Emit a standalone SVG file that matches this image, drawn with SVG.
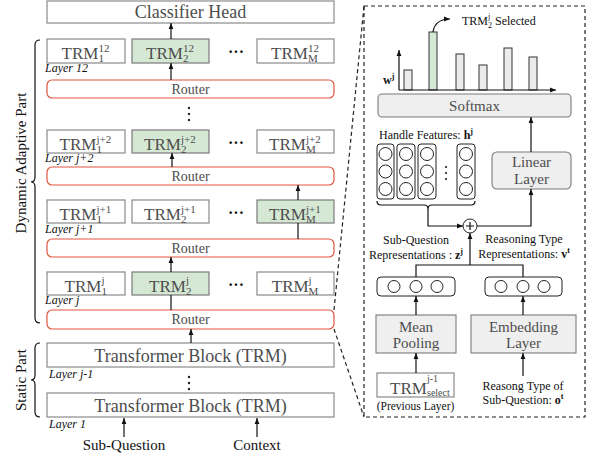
<svg xmlns="http://www.w3.org/2000/svg" width="589" height="459" viewBox="0 0 589 459">
<style>
.box{fill:#fff;stroke:#8a8a8a;stroke-width:1.2}
.grn{fill:#d5e8d4;stroke:#7a7a7a;stroke-width:1.2}
.rt{fill:#fff;stroke:#e0553f;stroke-width:1.2}
.gbox{fill:#efefef;stroke:#7a7a7a;stroke-width:1.1}
.ob{fill:#fff;stroke:#222;stroke-width:1}
.bar{fill:#ececec;stroke:#333;stroke-width:1}
.t{font-family:"Liberation Serif",serif;fill:#4d4d4d}
.k{font-family:"Liberation Serif",serif;fill:#111}
.lay{font-family:"Liberation Serif",serif;font-style:italic;font-size:12px;fill:#111}
.ln{fill:none;stroke:#111;stroke-width:1.2}
.dash{fill:none;stroke:#222;stroke-width:1.2;stroke-dasharray:4 3}
.dot{fill:#222}
.sc{font-size:11px}
</style>
<defs>
<marker id="ah" viewBox="0 0 10 10" refX="10" refY="5" markerWidth="6" markerHeight="6" orient="auto" markerUnits="userSpaceOnUse"><path d="M0,1 L10,5 L0,9 z" fill="#111"/></marker>
</defs>

<g id="classifier">
<rect class="box" x="47" y="1" width="287" height="22"/>
<text class="t" x="190.5" y="18" font-size="18" text-anchor="middle">Classifier Head</text>
</g>

<g id="layer12">
<rect class="box" x="47" y="39" width="78" height="24"/>
<text class="t" font-size="17"><tspan x="61.6" y="59">TRM</tspan><tspan class="sc" x="98.4" y="52">12</tspan><tspan class="sc" x="98.4" y="62">1</tspan></text>
<rect class="grn" x="132" y="39" width="77" height="24"/>
<text class="t" font-size="17"><tspan x="146.1" y="59">TRM</tspan><tspan class="sc" x="182.9" y="52">12</tspan><tspan class="sc" x="182.9" y="62">2</tspan></text>
<text class="k" x="236" y="57" font-size="16" font-weight="bold" text-anchor="middle">···</text>
<rect class="box" x="257" y="39" width="77" height="24"/>
<text class="t" font-size="17"><tspan x="271.1" y="59">TRM</tspan><tspan class="sc" x="307.9" y="52">12</tspan><tspan class="sc" x="307.9" y="62">M</tspan></text>
<text class="lay" x="45" y="72">Layer 12</text>
</g>
<g id="router12">
<rect class="rt" x="47" y="80" width="287" height="18" rx="5"/>
<text class="t" x="190.5" y="94" font-size="14" text-anchor="middle">Router</text>
</g>

<g id="layerj2">
<rect class="box" x="47" y="130" width="78" height="23"/>
<text class="t" font-size="17"><tspan x="59.6" y="150">TRM</tspan><tspan class="sc" x="96.4" y="143">j+2</tspan><tspan class="sc" x="96.4" y="153">1</tspan></text>
<rect class="grn" x="132" y="130" width="77" height="23"/>
<text class="t" font-size="17"><tspan x="144.1" y="150">TRM</tspan><tspan class="sc" x="180.9" y="143">j+2</tspan><tspan class="sc" x="180.9" y="153">2</tspan></text>
<text class="k" x="236" y="148" font-size="16" font-weight="bold" text-anchor="middle">···</text>
<rect class="box" x="257" y="130" width="77" height="23"/>
<text class="t" font-size="17"><tspan x="269.1" y="150">TRM</tspan><tspan class="sc" x="305.9" y="143">j+2</tspan><tspan class="sc" x="305.9" y="153">M</tspan></text>
<text class="lay" x="45" y="162">Layer j+2</text>
</g>
<g id="routerj2">
<rect class="rt" x="47" y="167" width="287" height="18" rx="5"/>
<text class="t" x="190.5" y="181" font-size="14" text-anchor="middle">Router</text>
</g>

<g id="layerj1">
<rect class="box" x="47" y="200" width="78" height="23"/>
<text class="t" font-size="17"><tspan x="59.6" y="220">TRM</tspan><tspan class="sc" x="96.4" y="213">j+1</tspan><tspan class="sc" x="96.4" y="223">1</tspan></text>
<rect class="box" x="132" y="200" width="77" height="23"/>
<text class="t" font-size="17"><tspan x="144.1" y="220">TRM</tspan><tspan class="sc" x="180.9" y="213">j+1</tspan><tspan class="sc" x="180.9" y="223">2</tspan></text>
<text class="k" x="236" y="218" font-size="16" font-weight="bold" text-anchor="middle">···</text>
<rect class="grn" x="257" y="200" width="77" height="23"/>
<text class="t" font-size="17"><tspan x="269.1" y="220">TRM</tspan><tspan class="sc" x="305.9" y="213">j+1</tspan><tspan class="sc" x="305.9" y="223">M</tspan></text>
<text class="lay" x="45" y="233">Layer j+1</text>
</g>
<g id="routerj1">
<rect class="rt" x="47" y="239" width="287" height="18" rx="5"/>
<text class="t" x="190.5" y="253" font-size="14" text-anchor="middle">Router</text>
</g>

<g id="layerj">
<rect class="box" x="47" y="272" width="78" height="23"/>
<text class="t" font-size="17"><tspan x="64.6" y="292">TRM</tspan><tspan class="sc" x="101.4" y="284">j</tspan><tspan class="sc" x="101.4" y="295">1</tspan></text>
<rect class="grn" x="132" y="272" width="77" height="23"/>
<text class="t" font-size="17"><tspan x="149.1" y="292">TRM</tspan><tspan class="sc" x="185.9" y="284">j</tspan><tspan class="sc" x="185.9" y="295">2</tspan></text>
<text class="k" x="236" y="290" font-size="16" font-weight="bold" text-anchor="middle">···</text>
<rect class="box" x="257" y="272" width="77" height="23"/>
<text class="t" font-size="17"><tspan x="271.8" y="292">TRM</tspan><tspan class="sc" x="308.6" y="284">j</tspan><tspan class="sc" x="308.6" y="295">M</tspan></text>
<text class="lay" x="45" y="304">Layer j</text>
</g>
<g id="routerj">
<rect class="rt" x="47" y="310" width="287" height="19" rx="5"/>
<text class="t" x="190.5" y="324" font-size="14" text-anchor="middle">Router</text>
</g>

<g id="trmblock2">
<rect class="box" x="47" y="343" width="287" height="24"/>
<text class="t" x="190.5" y="362" font-size="18" text-anchor="middle">Transformer Block (TRM)</text>
<text class="lay" x="49" y="378">Layer j-1</text>
</g>
<g id="trmblock1">
<rect class="box" x="47" y="393" width="287" height="24"/>
<text class="t" x="190.5" y="412" font-size="18" text-anchor="middle">Transformer Block (TRM)</text>
<text class="lay" x="49" y="428">Layer 1</text>
</g>

<g id="inputs">
<text class="k" x="124" y="450" font-size="15" text-anchor="middle">Sub-Question</text>
<text class="k" x="257" y="450" font-size="15" text-anchor="middle">Context</text>
</g>

<g id="braces">
<path class="ln" d="M40,40 Q35,40 35,45 L35,177 Q35,182 31,182 Q35,182 35,187 L35,318 Q35,323 40,323" stroke-width="1"/>
<path class="ln" d="M40,343 Q35,343 35,348 L35,375 Q35,380 31,380 Q35,380 35,385 L35,412 Q35,417 40,417" stroke-width="1"/>
<text class="k" transform="rotate(-90 26 163)" x="26" y="163" font-size="15" text-anchor="middle">Dynamic Adaptive Part</text>
<text class="k" transform="rotate(-90 26 380)" x="26" y="380" font-size="15" text-anchor="middle">Static Part</text>
</g>

<g id="vdots">
<circle class="dot" cx="189" cy="108" r="1.2"/><circle class="dot" cx="189" cy="114" r="1.2"/><circle class="dot" cx="189" cy="120" r="1.2"/>
<circle class="dot" cx="189" cy="377" r="1.2"/><circle class="dot" cx="189" cy="383" r="1.2"/><circle class="dot" cx="189" cy="389" r="1.2"/>
</g>

<g id="panel">
<rect class="dash" x="364" y="6" width="221" height="411"/>
</g>

<g id="chart">
<rect class="bar" x="404" y="70" width="8" height="20"/>
<rect class="bar" x="429" y="32" width="8" height="58" style="fill:#d5e8d4"/>
<rect class="bar" x="456" y="54" width="8" height="36"/>
<rect class="bar" x="479" y="65" width="8" height="25"/>
<rect class="bar" x="504" y="48" width="8" height="42"/>
<rect class="bar" x="529" y="57" width="8" height="33"/>
<text class="k" x="383" y="84" font-size="12" font-weight="bold">w<tspan dy="-5" font-size="8">j</tspan></text>
<text class="k" font-size="12"><tspan x="462" y="25">TRM</tspan><tspan x="488" y="19" font-size="8">j</tspan><tspan x="488" y="28" font-size="8">2</tspan><tspan x="495" y="25">Selected</tspan></text>
</g>

<g id="softmax">
<rect class="gbox" x="378" y="94" width="193" height="23" rx="4"/>
<text class="t" x="474.5" y="111" font-size="15" text-anchor="middle">Softmax</text>
</g>

<g id="features">
<text class="k" x="379" y="139" font-size="12">Handle Features: <tspan font-weight="bold">h</tspan><tspan dy="-5" font-size="8" font-weight="bold">j</tspan></text>
<rect class="ob" x="377" y="144" width="17" height="55" rx="3"/>
<rect class="ob" x="397" y="144" width="18" height="55" rx="3"/>
<rect class="ob" x="418" y="144" width="18" height="55" rx="3"/>
<rect class="ob" x="457" y="144" width="18" height="55" rx="3"/>
<g class="ob">
<circle cx="385.5" cy="154" r="6.5"/><circle cx="385.5" cy="171.5" r="6.5"/><circle cx="385.5" cy="189" r="6.5"/>
<circle cx="406" cy="154" r="6.5"/><circle cx="406" cy="171.5" r="6.5"/><circle cx="406" cy="189" r="6.5"/>
<circle cx="427" cy="154" r="6.5"/><circle cx="427" cy="171.5" r="6.5"/><circle cx="427" cy="189" r="6.5"/>
<circle cx="466" cy="154" r="6.5"/><circle cx="466" cy="171.5" r="6.5"/><circle cx="466" cy="189" r="6.5"/>
</g>
<circle class="dot" cx="446" cy="167" r="1.1"/><circle class="dot" cx="446" cy="173" r="1.1"/><circle class="dot" cx="446" cy="179" r="1.1"/>
<path class="ln" stroke-width="1" d="M377,201 Q377,205 381,205 L424,205 Q428,205 428,209 Q428,205 432,205 L471,205 Q475,205 475,201"/>
</g>

<g id="linear">
<rect class="gbox" x="492" y="152" width="79" height="37" rx="5"/>
<text class="t" x="531.5" y="167" font-size="15" text-anchor="middle">Linear</text>
<text class="t" x="531.5" y="184" font-size="15" text-anchor="middle">Layer</text>
</g>

<g id="plus">
<circle class="ob" cx="470" cy="226" r="7"/>
<path class="ln" stroke-width="1" d="M466,226 H474 M470,222 V230"/>
</g>

<g id="reps">
<text class="k" x="416" y="244" font-size="12" text-anchor="middle">Sub-Question</text>
<text class="k" x="416" y="259" font-size="12" text-anchor="middle">Representations : <tspan font-weight="bold">z</tspan><tspan dy="-5" font-size="8" font-weight="bold">j</tspan></text>
<text class="k" x="524" y="243" font-size="12" text-anchor="middle">Reasoning Type</text>
<text class="k" x="524" y="258" font-size="12" text-anchor="middle">Representations: <tspan font-weight="bold">v</tspan><tspan dy="-5" font-size="8" font-weight="bold">t</tspan></text>
</g>

<g id="vec1">
<rect class="ob" x="377" y="277" width="78" height="19" rx="4"/>
<circle class="ob" cx="394" cy="286.5" r="6"/><circle class="ob" cx="416" cy="286.5" r="6"/><circle class="ob" cx="437" cy="286.5" r="6"/>
</g>
<g id="vec2">
<rect class="ob" x="485" y="277" width="77" height="19" rx="4"/>
<circle class="ob" cx="501" cy="286.5" r="6"/><circle class="ob" cx="523" cy="286.5" r="6"/><circle class="ob" cx="544" cy="286.5" r="6"/>
</g>

<g id="meanpool">
<rect class="gbox" x="376" y="315" width="80" height="38"/>
<text class="t" x="416" y="332" font-size="15" text-anchor="middle">Mean</text>
<text class="t" x="416" y="348" font-size="15" text-anchor="middle">Pooling</text>
</g>
<g id="embed">
<rect class="gbox" x="471" y="315" width="105" height="38"/>
<text class="t" x="523.5" y="332" font-size="15" text-anchor="middle">Embedding</text>
<text class="t" x="523.5" y="348" font-size="15" text-anchor="middle">Layer</text>
</g>

<g id="trmselect">
<rect class="box" x="377" y="373" width="77" height="24"/>
<text class="t" font-size="17"><tspan x="390" y="394">TRM</tspan><tspan x="427" y="382" font-size="10">j-1</tspan><tspan x="427" y="396" font-size="10">select</tspan></text>
<text class="k" x="415.5" y="410" font-size="11.5" text-anchor="middle">(Previous Layer)</text>
</g>
<g id="reasontype">
<text class="k" x="523" y="390" font-size="12" text-anchor="middle">Reasong Type of</text>
<text class="k" x="523" y="404" font-size="12" text-anchor="middle">Sub-Question: <tspan font-weight="bold">o</tspan><tspan dy="-5" font-size="8" font-weight="bold">t</tspan></text>
</g>

<g id="connectors">
<line class="ln" x1="171" y1="39" x2="171" y2="23" marker-end="url(#ah)"/>
<line class="ln" x1="171" y1="80" x2="171" y2="63" marker-end="url(#ah)"/>
<line class="ln" x1="172" y1="167" x2="172" y2="153" marker-end="url(#ah)"/>
<line class="ln" x1="298" y1="200" x2="298" y2="185" marker-end="url(#ah)"/>
<line class="ln" x1="298" y1="239" x2="298" y2="223"/>
<line class="ln" x1="171" y1="272" x2="171" y2="257" marker-end="url(#ah)"/>
<line class="ln" x1="171" y1="310" x2="171" y2="295"/>
<line class="ln" x1="191" y1="343" x2="191" y2="329" marker-end="url(#ah)"/>
<line class="ln" x1="124" y1="437" x2="124" y2="418" marker-end="url(#ah)"/>
<line class="ln" x1="257" y1="437" x2="257" y2="418" marker-end="url(#ah)"/>
<line class="dash" x1="334" y1="310" x2="364" y2="6"/>
<line class="dash" x1="334" y1="329" x2="364" y2="417"/>
<line class="ln" x1="399" y1="90" x2="399" y2="50" marker-end="url(#ah)"/>
<line class="ln" x1="399" y1="90" x2="556" y2="90" marker-end="url(#ah)"/>
<path class="ln" d="M433,32 Q435,19 450,19" marker-end="url(#ah)"/>
<line class="ln" x1="531" y1="152" x2="531" y2="117" marker-end="url(#ah)"/>
<path class="ln" d="M477,226 H531 V189" marker-end="url(#ah)"/>
<path class="ln" d="M428,209 V226 H463" marker-end="url(#ah)"/>
<line class="ln" x1="470" y1="265" x2="470" y2="233" marker-end="url(#ah)"/>
<path class="ln" d="M416,277 V265 H523 V277"/>
<line class="ln" x1="416" y1="315" x2="416" y2="296" marker-end="url(#ah)"/>
<line class="ln" x1="523" y1="315" x2="523" y2="296" marker-end="url(#ah)"/>
<line class="ln" x1="416" y1="373" x2="416" y2="353" marker-end="url(#ah)"/>
<line class="ln" x1="523" y1="376" x2="523" y2="353" marker-end="url(#ah)"/>
</g>
</svg>
